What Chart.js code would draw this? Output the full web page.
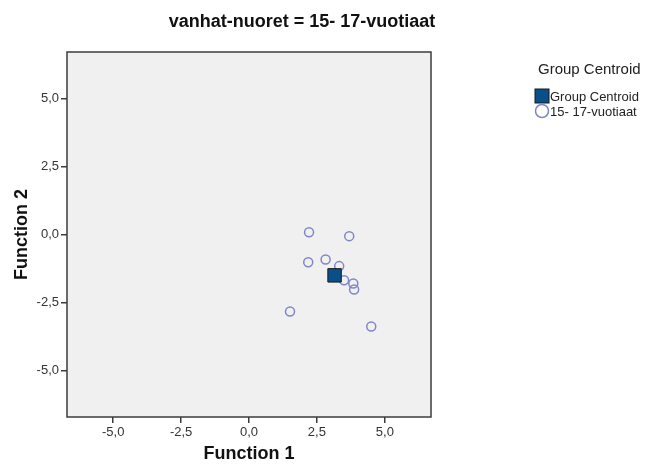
<!DOCTYPE html>
<html>
<head>
<meta charset="utf-8">
<script src="https://cdn.jsdelivr.net/npm/chart.js@4"></script>
<style>
  html, body { margin: 0; padding: 0; background: #ffffff; }
  #wrap { width: 647px; height: 471px; position: relative; }
</style>
</head>
<body>
<div id="wrap"><canvas id="chart"></canvas></div>
<script>
const chartTitle = "vanhat-nuoret = 15- 17-vuotiaat";
const groupLabel = "15- 17-vuotiaat";
const centroidLabel = "Group Centroid";

// discriminant scores
const function1 = [2.21, 3.69, 2.18, 2.82, 3.32, 3.50, 3.84, 3.87, 1.51, 4.50];
const function2 = [0.08, -0.06, -1.02, -0.92, -1.16, -1.68, -1.80, -2.02, -2.83, -3.38];

const centroidX = [3.15];
const centroidY = [-1.50];

const tickValues = [-5, -2.5, 0, 2.5, 5];
const axisMin = -6.7;
const axisMax = 6.7;

const toPoints = (xs, ys) => xs.map((x, i) => ({ x: x, y: ys[i] }));
const fmt = (v) => v.toFixed(1).replace(".", ",");

// --- plot frame, title and legend ---

const framePlugin = {
  id: "frame",
  beforeDatasetsDraw(chart) {
    const { ctx, chartArea: a } = chart;
    ctx.save();
    ctx.fillStyle = "#f0f0f0";
    ctx.fillRect(a.left, a.top, a.right - a.left, a.bottom - a.top);
    ctx.strokeStyle = "#3c3c3c";
    ctx.lineWidth = 1.5;
    ctx.strokeRect(a.left, a.top, a.right - a.left, a.bottom - a.top);
    ctx.restore();
  },
  afterDraw(chart) {
    const ctx = chart.ctx;
    ctx.save();
    ctx.fillStyle = "#111111";
    ctx.font = "bold 18px 'Liberation Sans', Arial, sans-serif";
    ctx.textAlign = "center";
    ctx.textBaseline = "alphabetic";
    ctx.fillText(chartTitle, 302, 27);

    // legend
    ctx.textAlign = "left";
    ctx.textBaseline = "middle";
    ctx.fillStyle = "#222222";
    ctx.font = "15px 'Liberation Sans', Arial, sans-serif";
    ctx.fillText(centroidLabel, 538, 70);

    ctx.fillStyle = "#0b4f8a";
    ctx.fillRect(535, 89, 14, 14);
    ctx.strokeStyle = "#1a1a1a";
    ctx.lineWidth = 1;
    ctx.strokeRect(535, 89, 14, 14);

    ctx.beginPath();
    ctx.arc(542, 111, 6.5, 0, Math.PI * 2);
    ctx.strokeStyle = "#7f86c6";
    ctx.lineWidth = 1.5;
    ctx.stroke();

    ctx.fillStyle = "#222222";
    ctx.font = "13px 'Liberation Sans', Arial, sans-serif";
    ctx.fillText(centroidLabel, 550, 97);
    ctx.fillText(groupLabel, 550, 112);
    ctx.restore();
  },
};

const axisFont = { family: "'Liberation Sans', Arial, sans-serif", size: 13 };
const titleFont = { family: "'Liberation Sans', Arial, sans-serif", size: 18, weight: "bold" };

new Chart(document.getElementById("chart"), {
  type: "scatter",
  data: {
    datasets: [
      {
        label: centroidLabel,
        data: toPoints(centroidX, centroidY),
        pointStyle: "rect",
        pointRadius: 9.5,
        pointHoverRadius: 9.5,
        backgroundColor: "#0b4f8a",
        borderColor: "#1a1a1a",
        borderWidth: 1,
      },
      {
        label: groupLabel,
        data: toPoints(function1, function2),
        pointStyle: "circle",
        pointRadius: 4.5,
        pointHoverRadius: 4.5,
        backgroundColor: "rgba(0,0,0,0)",
        borderColor: "#7f86c6",
        borderWidth: 1.5,
      },
    ],
  },
  options: {
    responsive: true,
    maintainAspectRatio: false,
    animation: false,
    layout: { padding: { left: 0, top: 52, right: 216, bottom: 0 } },
    plugins: {
      legend: { display: false },
      title: { display: false },
      tooltip: { enabled: false },
    },
    scales: {
      x: {
        type: "linear",
        min: axisMin,
        max: axisMax,
        afterBuildTicks: (scale) => {
          scale.ticks = tickValues.map((v) => ({ value: v }));
        },
        afterFit: (scale) => {
          scale.height = 54;
        },
        border: { display: false },
        grid: {
          drawOnChartArea: false,
          drawTicks: true,
          tickLength: 6,
          color: "#3c3c3c",
          lineWidth: 1.5,
        },
        ticks: {
          font: axisFont,
          color: "#333333",
          padding: 2,
          callback: (v) => fmt(v),
        },
        title: {
          display: true,
          text: "Function 1",
          font: titleFont,
          color: "#111111",
          padding: { top: 4, bottom: 6 },
        },
      },
      y: {
        type: "linear",
        min: axisMin,
        max: axisMax,
        afterBuildTicks: (scale) => {
          scale.ticks = tickValues.map((v) => ({ value: v }));
        },
        afterFit: (scale) => {
          scale.width = 67;
        },
        border: { display: false },
        grid: {
          drawOnChartArea: false,
          drawTicks: true,
          tickLength: 6,
          color: "#3c3c3c",
          lineWidth: 1.5,
        },
        ticks: {
          font: axisFont,
          color: "#333333",
          padding: 2,
          callback: (v) => fmt(v),
        },
        title: {
          display: true,
          text: "Function 2",
          font: titleFont,
          color: "#111111",
          padding: { top: 11, bottom: 4 },
        },
      },
    },
  },
  plugins: [framePlugin],
});
</script>
</body>
</html>
